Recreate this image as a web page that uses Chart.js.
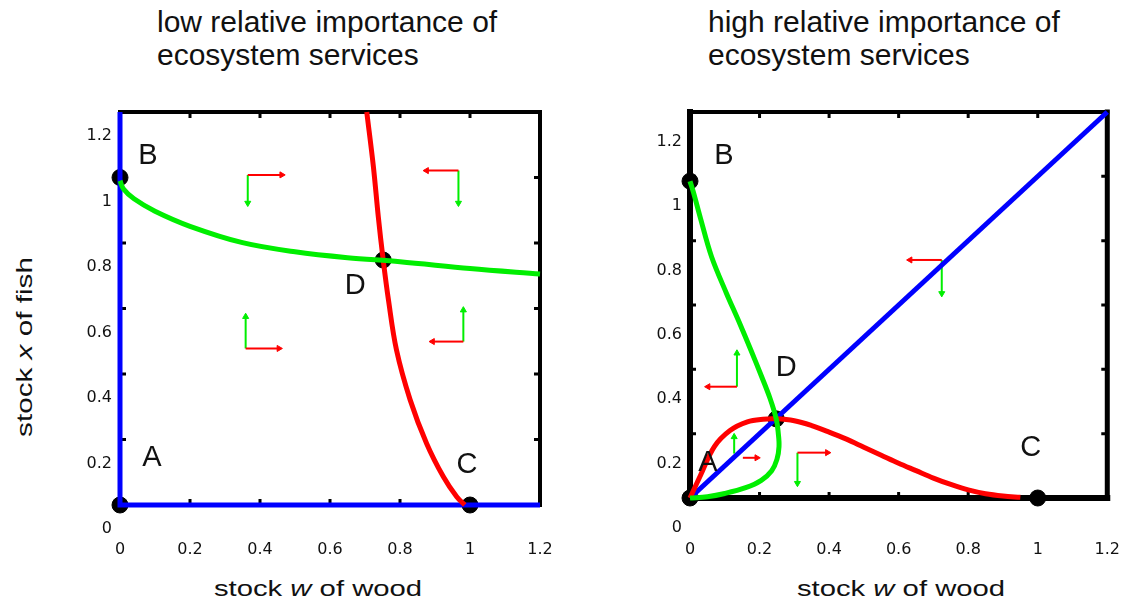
<!DOCTYPE html>
<html>
<head>
<meta charset="utf-8">
<script src="https://cdn.jsdelivr.net/npm/chart.js@4.4.1/dist/chart.umd.min.js"></script>
<style>
body{margin:0;background:#fff;width:1124px;height:604px;position:relative;overflow:hidden;font-family:"Liberation Sans",Arial,sans-serif;color:#111}
canvas{position:absolute;top:0}
.title{position:absolute;top:5px;font-size:30px;line-height:33px;white-space:nowrap}
.axtitle{position:absolute;font-size:22px;line-height:1;white-space:nowrap}
</style>
</head>
<body>
<div class="title" style="left:157px">low relative importance of<br>ecosystem services</div>
<div class="title" style="left:708px">high relative importance of<br>ecosystem services</div>
<div class="axtitle" style="left:25px;top:347px;transform:translate(-50%,-50%) rotate(-90deg) scaleX(1.35)">stock <i>x</i> of fish</div>
<div class="axtitle" style="left:318px;top:589px;transform:translate(-50%,-50%) scaleX(1.33)">stock <i>w</i> of wood</div>
<div class="axtitle" style="left:901px;top:589px;transform:translate(-50%,-50%) scaleX(1.33)">stock <i>w</i> of wood</div>
<canvas id="leftChart" width="562" height="604" style="left:0"></canvas>
<canvas id="rightChart" width="562" height="604" style="left:562px"></canvas>
<script>
// tick values and labels (both axes, both panels)
const tickVals = [0, 0.2, 0.4, 0.6, 0.8, 1, 1.2]
const tickLabels = ['0', '0.2', '0.4', '0.6', '0.8', '1', '1.2']

// left panel: low importance of ecosystem services
const leftBlueW = [0, 0, 1.2]
const leftBlueX = [1.2, 0, 0]
const leftGreenW = [0, 0.01, 0.04, 0.1, 0.2, 0.35, 0.5, 0.65, 0.8, 1.0, 1.2]
const leftGreenX = [0.99, 0.965, 0.935, 0.897, 0.851, 0.801, 0.773, 0.755, 0.743, 0.722, 0.705]
const leftRedW = [0.705, 0.724, 0.738, 0.752, 0.767, 0.79, 0.829, 0.876, 0.924, 0.962, 0.985]
const leftRedX = [1.2, 1.033, 0.88, 0.748, 0.626, 0.473, 0.321, 0.188, 0.086, 0.025, 0]
const leftEqNames = ['A', 'B', 'C', 'D']
const leftEqW = [0, 0, 1.0, 0.752]
const leftEqX = [0, 1.0, 0, 0.748]
// arrows: [fromW, fromX, toW, toX]
const leftRedArrows = [[0.365, 1.008, 0.462, 1.008], [0.967, 1.021, 0.876, 1.021], [0.359, 0.478, 0.454, 0.478], [0.981, 0.499, 0.893, 0.499]]
const leftGreenArrows = [[0.365, 1.008, 0.365, 0.922], [0.967, 1.021, 0.967, 0.922], [0.359, 0.478, 0.359, 0.575], [0.981, 0.499, 0.981, 0.595]]

// right panel: high importance of ecosystem services
const rightBlueW = [0, 1.2]
const rightBlueX = [0, 1.2]
const rightGreenW = [0, 0.01, 0.03, 0.062, 0.105, 0.14, 0.175, 0.205, 0.23, 0.248, 0.254, 0.256, 0.25, 0.235, 0.205, 0.16, 0.1, 0.05, 0]
const rightGreenX = [0.985, 0.95, 0.87, 0.75, 0.636, 0.55, 0.46, 0.38, 0.31, 0.246, 0.2, 0.16, 0.12, 0.085, 0.055, 0.032, 0.014, 0.004, 0]
const rightRedW = [0, 0.03, 0.07, 0.115, 0.165, 0.21, 0.248, 0.3, 0.35, 0.4, 0.45, 0.5, 0.55, 0.6, 0.65, 0.7, 0.75, 0.8, 0.85, 0.9, 0.95]
const rightRedX = [0, 0.07, 0.16, 0.21, 0.237, 0.245, 0.246, 0.24, 0.225, 0.205, 0.183, 0.158, 0.133, 0.108, 0.085, 0.062, 0.042, 0.025, 0.013, 0.006, 0.002]
const rightEqNames = ['A', 'B', 'C', 'D']
const rightEqW = [0, 0, 1.0, 0.248]
const rightEqX = [0, 0.985, 0, 0.246]
const rightRedArrows = [[0.724, 0.74, 0.633, 0.74], [0.135, 0.346, 0.052, 0.346], [0.152, 0.125, 0.192, 0.125], [0.309, 0.141, 0.395, 0.141]]
const rightGreenArrows = [[0.724, 0.74, 0.724, 0.636], [0.135, 0.346, 0.135, 0.45], [0.127, 0.138, 0.127, 0.19], [0.309, 0.141, 0.309, 0.046]]

const RED = '#ff0000'
const GREEN = '#00ee00'
const BLUE = '#0000ff'

const toPoints = function(ws, xs){
	return ws.map((w, i) => ({x: w, y: xs[i]}))
}

const curve = function(ws, xs, color, width, tension){
	return {
		data: toPoints(ws, xs),
		showLine: true,
		borderColor: color,
		borderWidth: width,
		pointRadius: 0,
		tension: tension,
		fill: false,
		clip: false
	}
}

const arrow = function(a, color){
	var rot = 0
	if (a[2] > a[0]) rot = 90
	else if (a[2] < a[0]) rot = 270
	else if (a[3] < a[1]) rot = 180
	return {
		data: [{x: a[0], y: a[1]}, {x: a[2], y: a[3]}],
		showLine: true,
		borderColor: color,
		borderWidth: 2,
		pointRadius: [0, 3.5],
		pointStyle: 'triangle',
		pointRotation: [0, rot],
		pointBackgroundColor: color,
		pointBorderColor: color,
		pointBorderWidth: 1,
		tension: 0,
		clip: false
	}
}

// black box and inward tick marks
const framePlugin = {
	id: 'frame',
	beforeDatasetsDraw(chart, args, opts){
		const ctx = chart.ctx, a = chart.chartArea
		const xs = chart.scales.x, ys = chart.scales.y
		ctx.save()
		ctx.strokeStyle = '#000'
		ctx.lineCap = 'square'
		opts.sides.forEach(s => {
			ctx.lineWidth = s[1]
			ctx.beginPath()
			if (s[0] == 'top') { ctx.moveTo(a.left, a.top); ctx.lineTo(a.right, a.top) }
			if (s[0] == 'right') { ctx.moveTo(a.right, a.top); ctx.lineTo(a.right, a.bottom) }
			if (s[0] == 'bottom') { ctx.moveTo(a.left, a.bottom); ctx.lineTo(a.right, a.bottom) }
			if (s[0] == 'left') { ctx.moveTo(a.left, a.top); ctx.lineTo(a.left, a.bottom) }
			ctx.stroke()
		})
		ctx.lineWidth = 3
		ctx.lineCap = 'butt'
		ctx.beginPath()
		tickVals.slice(1, -1).forEach(v => {
			var px = xs.getPixelForValue(v), py = ys.getPixelForValue(v)
			ctx.moveTo(px, a.bottom); ctx.lineTo(px, a.bottom - 6)
			ctx.moveTo(px, a.top); ctx.lineTo(px, a.top + 6)
			ctx.moveTo(a.left, py); ctx.lineTo(a.left + 6, py)
			ctx.moveTo(a.right, py); ctx.lineTo(a.right - 6, py)
		})
		ctx.stroke()
		ctx.restore()
	}
}

// letters next to the equilibria
const eqLabelPlugin = {
	id: 'eqLabels',
	afterDatasetsDraw(chart, args, opts){
		const ctx = chart.ctx
		const xs = chart.scales.x, ys = chart.scales.y
		ctx.save()
		ctx.fillStyle = '#111'
		ctx.font = '29px "Liberation Sans", Arial, sans-serif'
		ctx.textAlign = 'center'
		ctx.textBaseline = 'middle'
		opts.names.forEach((n, i) => {
			ctx.fillText(n, xs.getPixelForValue(opts.w[i]) + opts.offsets[i][0], ys.getPixelForValue(opts.x[i]) + opts.offsets[i][1])
		})
		ctx.restore()
	}
}

const makePanel = function(id, p){
	var datasets = []
	datasets.push(curve(p.greenW, p.greenX, GREEN, 5, 0.35))
	datasets.push(curve(p.redW, p.redX, RED, 5, 0.35))
	datasets.push(curve(p.blueW, p.blueX, BLUE, 5, 0))
	p.redArrows.map(a => datasets.push(arrow(a, RED)))
	p.greenArrows.map(a => datasets.push(arrow(a, GREEN)))
	datasets.push({
		data: toPoints(p.eqW, p.eqX),
		showLine: false,
		pointRadius: 8,
		pointHoverRadius: 8,
		pointBackgroundColor: '#000',
		pointBorderColor: '#000',
		clip: false
	})

	var tickFont = {family: '"DejaVu Sans", sans-serif', size: 16}
	return new Chart(document.getElementById(id), {
		type: 'scatter',
		data: {datasets: datasets},
		plugins: [framePlugin, eqLabelPlugin],
		options: {
			responsive: false,
			animation: false,
			devicePixelRatio: 1,
			events: [],
			layout: {padding: {top: 112, right: p.padRight, left: 0, bottom: 0}},
			plugins: {
				legend: {display: false},
				tooltip: {enabled: false},
				frame: {sides: p.sides},
				eqLabels: {names: p.eqNames, w: p.eqW, x: p.eqX, offsets: p.labelOffsets}
			},
			scales: {
				x: {
					type: 'linear', min: 0, max: 1.2,
					grid: {display: false, drawTicks: false}, border: {display: false},
					afterBuildTicks: s => { s.ticks = tickVals.map(v => ({value: v})) },
					afterFit: s => { s.height = p.xAxisH },
					// tall line box pushes the labels down without widening the side padding
					ticks: {padding: 4, color: '#111', font: {family: '"DejaVu Sans", sans-serif', size: 16, lineHeight: p.xLineHeight},
						maxRotation: 0, autoSkip: false, callback: (v, i) => tickLabels[i]}
				},
				y: {
					type: 'linear', min: 0, max: 1.2,
					grid: {display: false, drawTicks: false}, border: {display: false},
					afterBuildTicks: s => { s.ticks = tickVals.map(v => ({value: v})) },
					afterFit: s => { s.width = p.yAxisW },
					ticks: {padding: 8, labelOffset: p.yLabelOffset, color: '#111', font: tickFont, autoSkip: false,
						callback: (v, i) => tickLabels[i]}
				}
			}
		}
	})
}

makePanel('leftChart', {
	greenW: leftGreenW, greenX: leftGreenX,
	redW: leftRedW, redX: leftRedX,
	blueW: leftBlueW, blueX: leftBlueX,
	redArrows: leftRedArrows, greenArrows: leftGreenArrows,
	eqNames: leftEqNames, eqW: leftEqW, eqX: leftEqX,
	labelOffsets: [[32, -47], [28, -22], [-3, -40], [-28, 26]],
	sides: [['top', 4], ['right', 4]],
	padRight: 22, yAxisW: 120, xAxisH: 99, xLineHeight: 5.1, yLabelOffset: 24
})

makePanel('rightChart', {
	greenW: rightGreenW, greenX: rightGreenX,
	redW: rightRedW, redX: rightRedX,
	blueW: rightBlueW, blueX: rightBlueX,
	redArrows: rightRedArrows, greenArrows: rightGreenArrows,
	eqNames: rightEqNames, eqW: rightEqW, eqX: rightEqX,
	labelOffsets: [[18, -35], [34, -25], [-7, -50], [10, -51]],
	sides: [['top', 4], ['right', 5], ['bottom', 6], ['left', 6]],
	padRight: 14, yAxisW: 128, xAxisH: 106, xLineHeight: 5.95, yLabelOffset: 30
})
</script>
</body>
</html>
